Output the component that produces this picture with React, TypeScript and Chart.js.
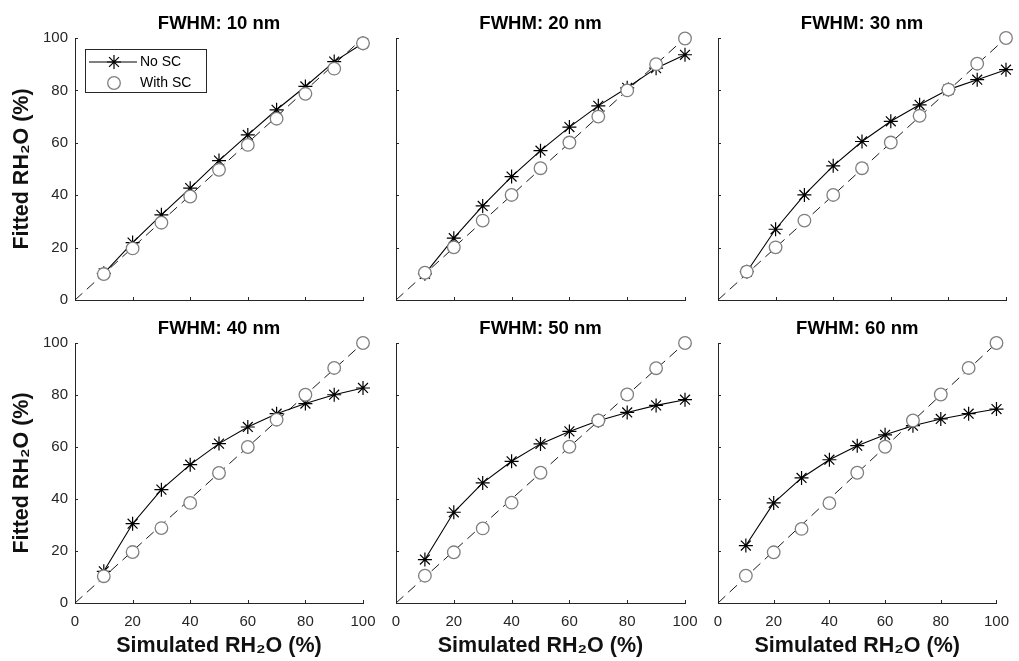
import React, { useEffect, useRef } from 'react';
import { Chart, registerables } from 'chart.js';
import { drawPoint } from 'chart.js/helpers';

Chart.register(...registerables);

// ---------------- DATA ----------------
const X_VALUES = [10, 20, 30, 40, 50, 60, 70, 80, 90, 100];
const TICK_VALUES = [0, 20, 40, 60, 80, 100];
const FWHM_NM = [10, 20, 30, 40, 50, 60];
const SERIES_LABELS = ['No SC', 'With SC'];
const Y_TITLE = 'Fitted RH₂O (%)';
const X_TITLE = 'Simulated RH₂O (%)';
const IDENTITY_LINE = [0, 100];

const NO_SC_10 = [10.2, 21.9, 32.5, 42.7, 53.2, 63.0, 72.6, 81.5, 91.0, 98.0];
const WITH_SC_10 = [9.9, 19.7, 29.5, 39.5, 49.7, 59.2, 69.2, 78.7, 88.3, 98.0];

const NO_SC_20 = [10.0, 23.6, 35.9, 47.1, 57.0, 66.0, 74.1, 81.0, 88.5, 93.6];
const WITH_SC_20 = [10.4, 20.1, 30.3, 40.1, 50.3, 60.1, 70.0, 80.0, 90.0, 99.8];

const NO_SC_30 = [10.8, 27.0, 40.1, 51.2, 60.5, 68.2, 74.5, 80.3, 84.1, 87.9];
const WITH_SC_30 = [10.8, 20.1, 30.3, 40.1, 50.3, 60.1, 70.3, 80.3, 90.2, 100.0];

const NO_SC_40 = [12.2, 30.5, 43.6, 53.2, 61.3, 67.7, 72.8, 76.7, 80.1, 82.7];
const WITH_SC_40 = [10.3, 19.6, 28.8, 38.5, 50.0, 60.0, 70.5, 80.1, 90.4, 100.0];

const NO_SC_50 = [16.7, 34.9, 46.2, 54.5, 61.2, 66.0, 70.1, 73.3, 76.0, 78.2];
const WITH_SC_50 = [10.5, 19.5, 28.7, 38.6, 50.1, 60.1, 70.2, 80.2, 90.3, 100.0];

const NO_SC_60 = [22.1, 38.5, 48.1, 55.1, 60.5, 64.7, 68.2, 70.8, 72.8, 74.6];
const WITH_SC_60 = [10.5, 19.5, 28.5, 38.4, 50.1, 60.1, 70.2, 80.2, 90.4, 100.0];

const NO_SC = [NO_SC_10, NO_SC_20, NO_SC_30, NO_SC_40, NO_SC_50, NO_SC_60];
const WITH_SC = [WITH_SC_10, WITH_SC_20, WITH_SC_30, WITH_SC_40, WITH_SC_50, WITH_SC_60];

// ---------------- LAYOUT / STYLE ----------------
const W = 1019;
const H = 661;
const ROW_TOP = [38, 343];
const ROW_BOTTOM = [300, 603];
const COL_LEFT = [75, 396, 718];
const COL_RIGHT = [363, 685, 1006];

const FONT = "'Liberation Sans', Arial, Helvetica, sans-serif";
const AXIS_COLOR = '#262626';
const CIRCLE_COLOR = '#7f7f7f';

const TITLE_SIZE = 18.5;
const TITLE_PAD_TOP = 2;
const TITLE_PAD_BOTTOM = 3.2;
const TITLE_H = TITLE_PAD_TOP + TITLE_SIZE * 1.2 + TITLE_PAD_BOTTOM;

Chart.defaults.font.family = FONT;

const inwardTicks = {
  id: 'inwardTicks',
  beforeDatasetsDraw(chart: any) {
    const { ctx, chartArea, scales } = chart;
    ctx.save();
    ctx.strokeStyle = AXIS_COLOR;
    ctx.lineWidth = 1;
    TICK_VALUES.forEach((v) => {
      const px = Math.round(scales.x.getPixelForValue(v)) + 0.5;
      ctx.beginPath();
      ctx.moveTo(px, chartArea.bottom);
      ctx.lineTo(px, chartArea.bottom - 3);
      ctx.stroke();
      const py = Math.round(scales.y.getPixelForValue(v)) + 0.5;
      ctx.beginPath();
      ctx.moveTo(chartArea.left, py);
      ctx.lineTo(chartArea.left + 3, py);
      ctx.stroke();
    });
    ctx.restore();
  },
};

const boxLegend = {
  id: 'boxLegend',
  afterDraw(chart: any) {
    const { ctx, chartArea } = chart;
    const x0 = chartArea.left + 10;
    const y0 = chartArea.top + 11;
    const w = 121;
    const h = 43;
    ctx.save();
    ctx.fillStyle = '#ffffff';
    ctx.fillRect(x0, y0, w, h);
    ctx.strokeStyle = AXIS_COLOR;
    ctx.lineWidth = 1;
    ctx.strokeRect(Math.round(x0) + 0.5, Math.round(y0) + 0.5, w, h);
    const y1 = y0 + 13;
    const y2 = y0 + 34;
    const mx = x0 + 29;
    ctx.strokeStyle = '#000';
    ctx.beginPath();
    ctx.moveTo(x0 + 4, y1);
    ctx.lineTo(x0 + 52, y1);
    ctx.stroke();
    ctx.lineWidth = 1.2;
    drawPoint(ctx, { pointStyle: 'star', radius: 7, rotation: 0, borderWidth: 1.2 } as any, mx, y1);
    ctx.strokeStyle = CIRCLE_COLOR;
    ctx.fillStyle = '#ffffff';
    ctx.lineWidth = 1.3;
    drawPoint(ctx, { pointStyle: 'circle', radius: 6.3, rotation: 0, borderWidth: 1.3 } as any, mx, y2);
    ctx.fillStyle = '#000';
    ctx.font = `14px ${FONT}`;
    ctx.textBaseline = 'middle';
    ctx.textAlign = 'left';
    ctx.fillText(SERIES_LABELS[0], x0 + 55, y1);
    ctx.fillText(SERIES_LABELS[1], x0 + 55, y2);
    ctx.restore();
  },
};

function makeConfig(idx: number): any {
  const row = Math.floor(idx / 3);
  const col = idx % 3;
  const L = COL_LEFT[col];
  const R = COL_RIGHT[col];
  const T = ROW_TOP[row];
  const B = ROW_BOTTOM[row];
  const isLeft = col === 0;
  const isBottom = row === 1;
  const yw = isLeft ? L : 0;
  const xh = isBottom ? H - B : 0;

  const toPts = (arr: number[]) => X_VALUES.map((x, i) => ({ x, y: arr[i] }));

  return {
    type: 'scatter',
    data: {
      datasets: [
        {
          label: SERIES_LABELS[1],
          data: toPts(WITH_SC[idx]),
          showLine: false,
          clip: false,
          pointStyle: 'circle',
          pointRadius: 6.3,
          pointBorderWidth: 1.3,
          pointBorderColor: CIRCLE_COLOR,
          pointBackgroundColor: '#ffffff',
          borderColor: CIRCLE_COLOR,
          backgroundColor: '#ffffff',
        },
        {
          label: SERIES_LABELS[0],
          data: toPts(NO_SC[idx]),
          showLine: true,
          clip: false,
          borderColor: '#000',
          borderWidth: 1.1,
          pointStyle: 'star',
          pointRadius: 7,
          pointBorderWidth: 1.2,
          pointBorderColor: '#000',
          pointBackgroundColor: '#000',
          tension: 0,
          fill: false,
        },
        {
          label: '1:1',
          data: IDENTITY_LINE.map((v) => ({ x: v, y: v })),
          showLine: true,
          clip: false,
          borderColor: '#1a1a1a',
          borderWidth: 1,
          borderDash: [10, 6],
          pointRadius: 0,
          fill: false,
        },
      ],
    },
    options: {
      responsive: false,
      animation: false,
      devicePixelRatio: 1,
      events: [],
      layout: {
        padding: {
          left: L - yw,
          right: W - R,
          top: T - TITLE_H,
          bottom: H - B - xh,
        },
      },
      plugins: {
        legend: { display: false },
        tooltip: { enabled: false },
        title: {
          display: true,
          text: `FWHM: ${FWHM_NM[idx]} nm`,
          fullSize: false,
          color: '#000',
          font: { family: FONT, size: TITLE_SIZE, weight: 'bold' },
          padding: { top: TITLE_PAD_TOP, bottom: TITLE_PAD_BOTTOM },
        },
      },
      scales: {
        x: {
          type: 'linear',
          position: 'bottom',
          min: 0,
          max: 100,
          afterFit: (s: any) => {
            s.height = xh;
          },
          grid: { display: false, drawTicks: false },
          border: { display: true, color: AXIS_COLOR, width: 1 },
          ticks: {
            display: isBottom,
            stepSize: 20,
            padding: 10,
            color: AXIS_COLOR,
            font: { family: FONT, size: 15 },
            maxRotation: 0,
          },
          title: {
            display: isBottom,
            text: X_TITLE,
            color: '#111',
            font: { family: FONT, size: 21.5, weight: 'bold' },
            padding: { top: 0, bottom: 2.1 },
          },
        },
        y: {
          type: 'linear',
          position: 'left',
          min: 0,
          max: 100,
          afterFit: (s: any) => {
            s.width = yw;
          },
          grid: { display: false, drawTicks: false },
          border: { display: true, color: AXIS_COLOR, width: 1 },
          ticks: {
            display: isLeft,
            stepSize: 20,
            padding: 7,
            color: AXIS_COLOR,
            font: { family: FONT, size: 15 },
          },
          title: {
            display: isLeft,
            text: Y_TITLE,
            color: '#111',
            font: { family: FONT, size: 21.5, weight: 'bold' },
            padding: { top: 9, bottom: 0 },
          },
        },
      },
    },
    plugins: idx === 0 ? [inwardTicks, boxLegend] : [inwardTicks],
  };
}

function Panel({ idx }: { idx: number }) {
  const ref = useRef<HTMLCanvasElement>(null);
  useEffect(() => {
    const chart = new Chart(ref.current as HTMLCanvasElement, makeConfig(idx));
    return () => chart.destroy();
  }, [idx]);
  return (
    <canvas
      ref={ref}
      width={W}
      height={H}
      style={{ position: 'absolute', left: 0, top: 0, width: W, height: H }}
    />
  );
}

export default function App() {
  return (
    <div
      style={{
        position: 'fixed',
        left: 0,
        top: 0,
        width: W,
        height: H,
        background: '#ffffff',
        overflow: 'hidden',
      }}
    >
      {FWHM_NM.map((_, i) => (
        <Panel key={i} idx={i} />
      ))}
    </div>
  );
}
